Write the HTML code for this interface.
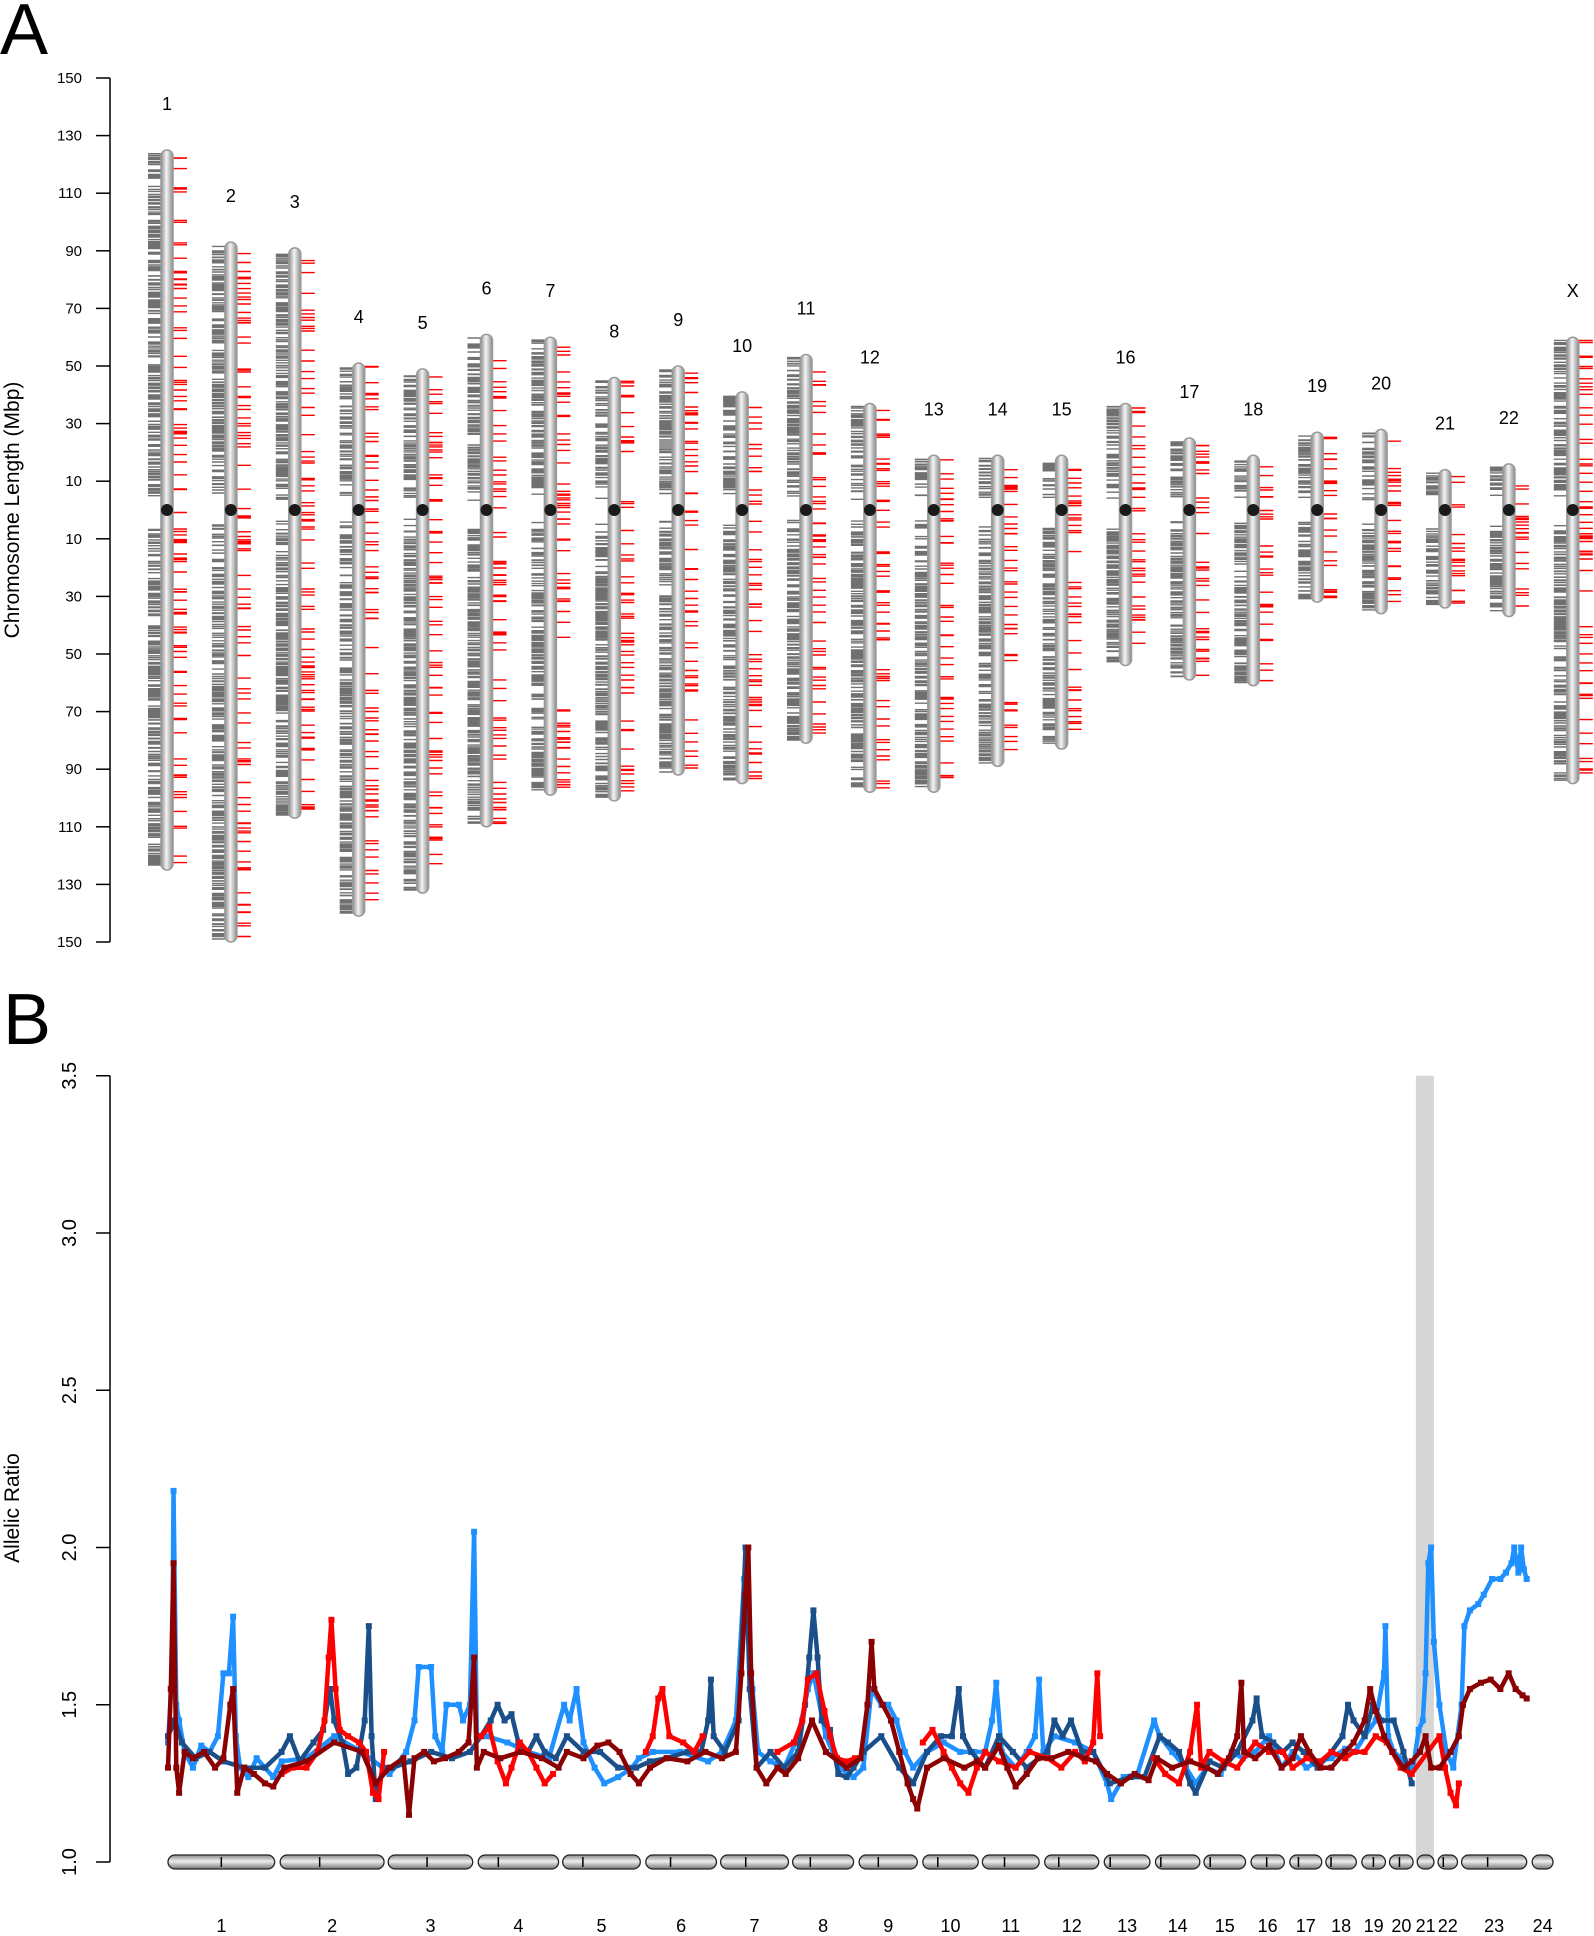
<!DOCTYPE html>
<html><head><meta charset="utf-8"><style>
body{margin:0;background:#fff}
svg{display:block;font-family:"Liberation Sans",sans-serif}
</style></head><body>
<svg id="fig" width="1594" height="1936" viewBox="0 0 1594 1936" xmlns="http://www.w3.org/2000/svg">
<defs>
<linearGradient id="cg" x1="0" x2="1" y1="0" y2="0">
<stop offset="0" stop-color="#8a8a8a"/><stop offset="0.45" stop-color="#f4f4f4"/><stop offset="1" stop-color="#8a8a8a"/>
</linearGradient>
<linearGradient id="bg" x1="0" x2="0" y1="0" y2="1">
<stop offset="0" stop-color="#888"/><stop offset="0.45" stop-color="#eee"/><stop offset="1" stop-color="#777"/>
</linearGradient>
</defs>
<text x="0" y="54" font-size="72">A</text>
<text x="3" y="1044" font-size="72">B</text>
<g id="pa"></g>
<g id="pb"></g>
</svg>
<script>
// ---------- Panel A data ----------
const chrNames = ["1","2","3","4","5","6","7","8","9","10","11","12","13","14","15","16","17","18","19","20","21","22","X"];
const pArm = [125,93,91,51,49,61,60,46,50,41,54,37,19,19,19,37,25,19,27,28,14,16,60];
const qArm = [125,150,107,141,133,110,99,101,92,95,81,98,98,89,83,54,59,61,32,36,34,37,95];
const yTicksA = [150,130,110,90,70,50,30,10];

// ---------- Panel B data ----------
const bChrNames = ["1","2","3","4","5","6","7","8","9","10","11","12","13","14","15","16","17","18","19","20","21","22","23","24"];
const bChrStart = [0,81,159,224,285,345,399,451,499,545,588,633,676,713,748,782,810,836,862,882,902,917,934,985];
const bChrEnd   = [77,156,220,282,341,396,448,495,541,585,629,672,709,745,778,806,833,858,879,899,914,931,981,1000];
const bCen      = [0.5,0.38,0.46,0.25,0.26,0.35,0.37,0.29,0.33,0.27,0.39,0.26,0.13,0.12,0.15,0.47,0.27,0.17,0.49,0.42,-1,0.27,0.4,-1];
const yTicksB = [1.0,1.5,2.0,2.5,3.0,3.5];
const highlightStart = 901, highlightEnd = 914;

const posLB = [0,3,4,6,8,12,18,24,30,36,40,44,47,49,52,58,64,70,76,82,100,120,140,155,160,172,178,181,190,193,198,201,210,213,218,221,223,230,245,260,275,286,290,295,300,308,315,325,335,340,350,370,390,400,410,416,419,422,426,435,445,455,462,466,475,485,495,502,508,515,520,526,532,538,548,560,572,582,590,595,598,602,612,620,626,629,632,640,655,668,678,681,690,700,712,716,725,735,742,750,760,768,776,785,795,804,812,822,830,840,850,857,864,872,878,879,881,885,893,899,903,906,908,910,912,914,918,923,928,934,936,940,946,950,956,962,966,970,972,975,977,979,981];
const valLB = [1.38,1.6,2.18,1.5,1.45,1.35,1.3,1.37,1.35,1.4,1.6,1.6,1.78,1.4,1.3,1.27,1.33,1.3,1.27,1.32,1.33,1.4,1.35,1.3,1.28,1.35,1.45,1.62,1.62,1.4,1.35,1.5,1.5,1.45,1.5,2.05,1.4,1.4,1.38,1.35,1.33,1.5,1.45,1.55,1.38,1.3,1.25,1.27,1.3,1.33,1.35,1.35,1.32,1.35,1.45,1.9,1.75,1.55,1.35,1.32,1.3,1.4,1.55,1.6,1.4,1.3,1.27,1.3,1.55,1.5,1.5,1.45,1.35,1.3,1.35,1.38,1.35,1.35,1.35,1.45,1.57,1.35,1.3,1.35,1.4,1.58,1.35,1.4,1.38,1.35,1.25,1.2,1.27,1.28,1.45,1.4,1.35,1.3,1.25,1.3,1.28,1.35,1.33,1.35,1.4,1.3,1.35,1.3,1.32,1.33,1.36,1.35,1.4,1.45,1.6,1.75,1.4,1.35,1.32,1.3,1.42,1.45,1.6,1.95,2.0,1.7,1.5,1.35,1.3,1.5,1.75,1.8,1.82,1.85,1.9,1.9,1.92,1.95,2.0,1.92,2.0,1.93,1.9];

const posDB = [0,5,10,20,30,40,55,70,82,88,95,105,112,117,120,126,130,136,142,145,147,150,155,162,175,190,205,218,226,233,238,243,248,253,260,266,272,280,288,300,312,325,338,348,360,375,385,390,392,394,402,412,417,420,425,435,445,455,460,463,466,469,472,478,484,490,495,502,515,528,538,548,558,566,571,574,580,590,600,610,620,635,640,646,652,660,668,680,695,705,716,722,730,738,742,752,762,772,783,786,790,798,805,812,820,830,840,848,852,856,864,870,876,885,892,898];
const valDB = [1.4,1.45,1.38,1.33,1.35,1.32,1.3,1.3,1.35,1.4,1.32,1.38,1.42,1.55,1.45,1.38,1.28,1.3,1.45,1.75,1.4,1.2,1.3,1.3,1.32,1.35,1.33,1.35,1.4,1.45,1.5,1.45,1.47,1.38,1.35,1.4,1.35,1.33,1.4,1.35,1.35,1.3,1.3,1.32,1.33,1.35,1.35,1.45,1.58,1.4,1.35,1.45,2.0,1.55,1.3,1.35,1.3,1.35,1.5,1.65,1.8,1.65,1.45,1.42,1.28,1.27,1.3,1.35,1.4,1.3,1.25,1.35,1.4,1.4,1.55,1.4,1.35,1.3,1.4,1.35,1.3,1.35,1.45,1.4,1.45,1.35,1.35,1.25,1.27,1.27,1.4,1.38,1.35,1.25,1.22,1.32,1.3,1.35,1.45,1.52,1.4,1.38,1.35,1.38,1.35,1.3,1.35,1.4,1.5,1.45,1.4,1.5,1.45,1.45,1.35,1.25];

const posR = [82,90,100,108,113,116,118,121,124,130,138,143,148,152,156,226,232,238,244,248,254,260,266,272,278,345,350,354,357,362,372,380,386,440,452,458,462,468,474,478,483,490,496,545,552,560,566,572,578,584,590,600,612,622,635,645,655,662,668,671,673,712,720,730,738,743,746,752,762,772,785,795,805,812,822,832,840,850,856,864,872,880,884,890,898,918,922,926,930,932];
const valR = [1.28,1.3,1.3,1.35,1.45,1.65,1.77,1.55,1.42,1.4,1.38,1.35,1.22,1.2,1.35,1.4,1.43,1.32,1.25,1.3,1.38,1.35,1.3,1.25,1.28,1.35,1.4,1.52,1.55,1.4,1.38,1.35,1.4,1.35,1.38,1.45,1.58,1.6,1.48,1.4,1.33,1.32,1.33,1.38,1.42,1.35,1.3,1.25,1.22,1.3,1.35,1.32,1.3,1.35,1.33,1.3,1.35,1.32,1.38,1.6,1.4,1.33,1.28,1.25,1.35,1.5,1.3,1.35,1.32,1.3,1.38,1.35,1.35,1.3,1.33,1.32,1.35,1.33,1.35,1.35,1.4,1.38,1.35,1.3,1.28,1.4,1.3,1.22,1.18,1.25];

const posDR = [0,2,4,6,8,12,18,26,34,40,45,47,50,55,62,70,76,84,100,120,140,150,160,170,174,178,185,192,200,210,217,221,223,228,240,255,270,282,288,300,310,318,326,334,340,348,360,375,388,400,410,414,417,419,421,425,432,440,446,455,465,475,490,500,505,508,510,516,522,528,534,538,541,548,560,575,584,590,600,606,612,620,628,638,650,662,670,678,688,698,708,714,725,738,750,758,766,772,775,777,785,795,804,812,818,824,832,840,850,856,864,868,872,878,884,892,898,904,908,912,918,926,932,935,940,948,955,962,968,973,978,981];
const valDR = [1.3,1.55,1.95,1.3,1.22,1.35,1.33,1.35,1.3,1.33,1.5,1.55,1.22,1.3,1.28,1.25,1.24,1.3,1.32,1.38,1.35,1.25,1.3,1.33,1.15,1.33,1.35,1.32,1.33,1.35,1.38,1.65,1.3,1.35,1.33,1.35,1.33,1.3,1.35,1.33,1.37,1.38,1.35,1.28,1.25,1.3,1.33,1.32,1.35,1.33,1.35,1.6,1.85,2.0,1.6,1.3,1.25,1.3,1.28,1.33,1.45,1.35,1.3,1.33,1.5,1.7,1.55,1.5,1.45,1.35,1.25,1.2,1.17,1.3,1.33,1.3,1.32,1.3,1.37,1.3,1.24,1.28,1.33,1.33,1.35,1.33,1.32,1.28,1.25,1.28,1.26,1.33,1.3,1.32,1.3,1.28,1.33,1.4,1.57,1.35,1.33,1.37,1.3,1.33,1.4,1.35,1.3,1.3,1.35,1.38,1.45,1.55,1.48,1.4,1.35,1.3,1.32,1.35,1.4,1.3,1.3,1.35,1.4,1.5,1.55,1.57,1.58,1.55,1.6,1.55,1.53,1.52];

const NS = "http://www.w3.org/2000/svg";
function mk(tag, attrs, parent){const e=document.createElementNS(NS,tag);for(const k in attrs)e.setAttribute(k,attrs[k]);parent.appendChild(e);return e;}

// ---------- Panel A ----------
const pa = document.getElementById("pa");
const zeroY = 510, mbp = 2.88;
const yA = v => zeroY + v*mbp;
const xA = i => 167 + i*63.9;
mk("line",{x1:110,x2:110,y1:yA(-150),y2:yA(150),stroke:"#000","stroke-width":1.5},pa);
yTicksA.forEach(t=>{
  [-t,t].forEach(v=>{
    const tk=mk("line",{x1:96,x2:110,y1:yA(v),y2:yA(v),stroke:"#000","stroke-width":1.5},pa);
    
    
    const tl=mk("text",{x:82,y:yA(v)+5,"font-size":15,"text-anchor":"end"},pa);
    tl.textContent=t;
    
    
  });
});
const ttl=mk("text",{x:0,y:0,"font-size":21,"text-anchor":"middle",transform:"translate(19,510) rotate(-90)"},pa);
ttl.textContent="Chromosome Length (Mbp)";



function hash(a,b){let h=(a*374761393+b*668265263)|0;h=(h^(h>>>13))*1274126177|0;h=h^(h>>>16);return (h>>>0)/4294967296;}
chrNames.forEach((n,i)=>{
  const x=xA(i), top=yA(-pArm[i]), bot=yA(qArm[i]);
  const g=mk("g",{},pa);
  
  
  const total=pArm[i]+qArm[i];
  const nGray=Math.round(total*2.2), nRed=Math.round(total*0.4);
  let gd="", rd="";
  for(let k=0;k<nGray;k++){
    const r=hash(i+1,k+1);
    const v=-pArm[i]+1+r*(total-2);
    if(Math.abs(v)<3+hash(i+7,k)*6) continue;
    const y=yA(v).toFixed(1);
    gd+="M"+(x-19)+" "+y+"H"+(x-6);
  }
  for(let k=0;k<nRed;k++){
    const r=hash(i+101,k+3);
    const v=-pArm[i]+1+r*(total-2);
    const y=yA(v).toFixed(1);
    rd+="M"+(x+6)+" "+y+"H"+(x+20);
  }
  const gp=mk("path",{d:gd,stroke:"#707070","stroke-width":1.4},g);
  
  
  const rp=mk("path",{d:rd,stroke:"#ff0000","stroke-width":1.4},g);
  
  
  const body=mk("rect",{x:x-6,y:top,width:12,height:bot-top,rx:6,fill:"url(#cg)",stroke:"#999","stroke-width":1.5},g);
  
  
  const c=mk("circle",{cx:x,cy:zeroY,r:6,fill:"#1a1a1a"},g);
  
  
  const lb=mk("text",{x:x,y:top-40,"font-size":18,"text-anchor":"middle"},g);
  lb.textContent=n;
  
  
});

// ---------- Panel B ----------
const pb=document.getElementById("pb");
const xB=p=>168+p*1.385;
const yB=v=>1862-(v-1)*314.5;
const hl=mk("rect",{x:xB(highlightStart),y:yB(3.5),width:xB(highlightEnd)-xB(highlightStart),height:yB(1.0)-yB(3.5),fill:"#d6d6d6"},pb);


mk("line",{x1:110,x2:110,y1:yB(3.5),y2:yB(1.0),stroke:"#000","stroke-width":1.5},pb);
yTicksB.forEach(t=>{
  const tk=mk("line",{x1:96,x2:110,y1:yB(t),y2:yB(t),stroke:"#000","stroke-width":1.5},pb);
  
  
  const tl=mk("text",{x:0,y:0,"font-size":20,"text-anchor":"middle",transform:"translate(76,"+yB(t)+") rotate(-90)"},pb);
  tl.textContent=t.toFixed(1);
  
  
});
const tb=mk("text",{x:0,y:0,"font-size":21,"text-anchor":"middle",transform:"translate(19,1508) rotate(-90)"},pb);
tb.textContent="Allelic Ratio";



function series(pos,val,color,name){
  const g=mk("g",{},pb);
  
  
  let d="";
  pos.forEach((p,k)=>{
    const brk = k===0 || (p-pos[k-1])>25;
    d+=(brk?"M":"L")+xB(p).toFixed(1)+" "+yB(val[k]).toFixed(1);
  });
  mk("path",{d:d,fill:"none",stroke:"#333","stroke-width":0.8},g);
  mk("path",{d:d,fill:"none",stroke:color,"stroke-width":4.5,"stroke-linejoin":"round"},g);
  pos.forEach((p,k)=>{
    const r=mk("rect",{x:xB(p)-3,y:yB(val[k])-3,width:6,height:6,fill:color},g);
    
    
  });
}
series(posLB,valLB,"#1e90ff","series-light-blue");
series(posDB,valDB,"#1a4f8a","series-dark-blue");
series(posR,valR,"#ff0000","series-red");
series(posDR,valDR,"#8b0000","series-dark-red");

bChrNames.forEach((n,i)=>{
  const x1=xB(bChrStart[i]), x2=xB(bChrEnd[i]);
  const g=mk("g",{},pb);
  
  
  mk("rect",{x:x1,y:1855,width:x2-x1,height:14,rx:7,fill:"url(#bg)",stroke:"#222","stroke-width":1.3},g);
  if(bCen[i]>=0){const cx=x1+(x2-x1)*bCen[i];mk("line",{x1:cx,x2:cx,y1:1857,y2:1867,stroke:"#000","stroke-width":1.5},g);}
  const t=mk("text",{x:(x1+x2)/2,y:1932,"font-size":18,"text-anchor":"middle"},g);
  t.textContent=n;
  
  
});
</script>
</body></html>
